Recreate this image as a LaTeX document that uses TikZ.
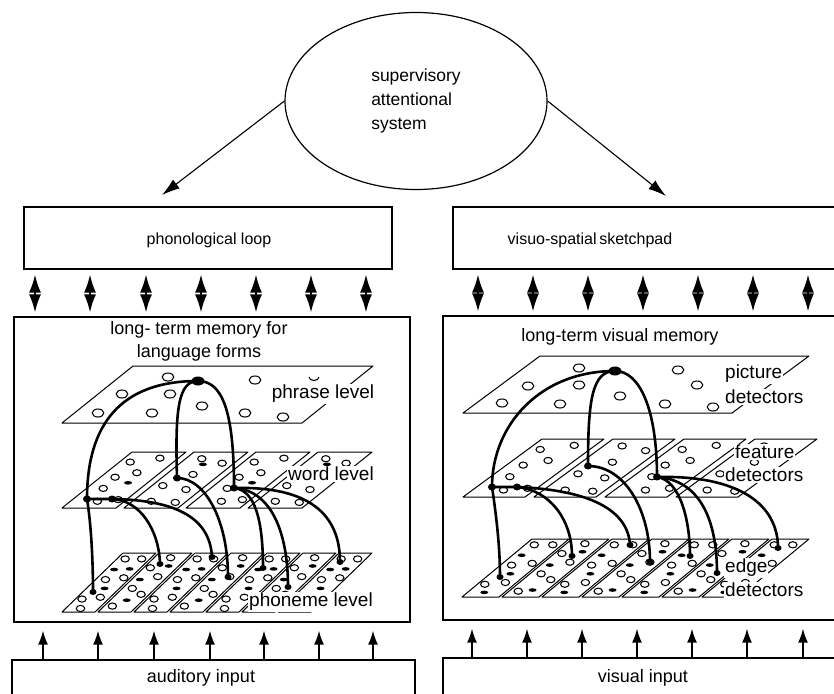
\documentclass[tikz,border=0pt]{standalone}
\usepackage{fontspec}
\setmainfont{Liberation Sans}
\usetikzlibrary{shapes.geometric,arrows.meta}
\newcommand\cardopen[6]{\foreach \u/\v in {#6} \draw[oc] ({#1+\u*#3+\v*#4},{#2-\v*#5}) ellipse [x radius=4.2pt,y radius=3.1pt];}
\newcommand\carddash[6]{\foreach \u/\v in {#6} \fill ({#1+\u*#3+\v*#4},{#2-\v*#5}) ellipse [x radius=4pt,y radius=1.8pt];}
\begin{document}
\begin{tikzpicture}[x=1pt,y=-1pt,
  boxst/.style={draw, line width=1.3pt, inner sep=0pt},
  card/.style={draw, line width=1pt, line join=round},
  oc/.style={line width=1.05pt},
  conn/.style={line width=2.6pt, line cap=round},
  dbl/.style={line width=1.6pt, {Latex[length=18pt,width=12pt]}-{Latex[length=18pt,width=12pt]}},
  uparr/.style={line width=1.5pt, -{Latex[length=14pt,width=10pt]}},
  sarr/.style={line width=1.1pt, -{Latex[length=18pt,width=11pt]}},
  lbl/.style={fill=white, inner sep=1pt, font=\fontsize{19}{22}\selectfont},
  ttl/.style={font=\fontsize{18}{23}\selectfont, align=center},
  bigdot/.style={ellipse, fill=black, minimum width=13pt, minimum height=9pt, inner sep=0pt},
  mdot/.style={ellipse, fill=black, minimum width=8pt, minimum height=7pt, inner sep=0pt},
  sdot/.style={ellipse, fill=black, minimum width=7pt, minimum height=6pt, inner sep=0pt}]
\useasboundingbox (0,0) rectangle (834,693);
\clip (0,0) rectangle (834,693);
\fill[white] (0,0) rectangle (834,693);

% ellipse
\node[ellipse, draw, line width=1.2pt, minimum width=262pt, minimum height=177pt, align=left,
  font=\fontsize{17.5}{24}\selectfont] (sas) at (416,101) {supervisory\\attentional\\system};
\coordinate (lt) at (162,195);
\coordinate (rt) at (666,196);
\draw[sarr] (sas.west) -- (lt);
\draw[sarr] (sas.east) -- (rt);

% boxes
\node[boxst, minimum width=368pt, minimum height=62pt] (pl) at (208,238) {};
\node[font=\fontsize{16}{19}\selectfont] (plt) at (209,240) {phonological loop};
\node[boxst, minimum width=387pt, minimum height=62pt] (vs) at (646.5,238) {};
\node[font=\fontsize{16}{19}\selectfont] (vst) at (590,240) {visuo-spatial\,sketchpad};
\node[boxst, minimum width=396pt, minimum height=305pt] (ltm) at (212,469.5) {};
\node[boxst, minimum width=397pt, minimum height=304pt] (ltv) at (641.5,468) {};
\node[boxst, minimum width=403pt, minimum height=50pt] (ai) at (213.5,685) {};
\node[font=\fontsize{18}{21}\selectfont] (ait) at (201,678) {auditory input};
\node[boxst, minimum width=397pt, minimum height=50pt] (vi) at (641.5,683) {};
\node[font=\fontsize{18}{21}\selectfont] (vit) at (643,678) {visual input};

% arrows between boxes
\foreach \x in {35,90,146,201,256,311,366}
  \draw[dbl, shorten <=5pt, shorten >=4pt] (pl.south -| \x,0) -- (ltm.north -| \x,0);
\foreach \x in {478,533,588,643,698,753,808}
  \draw[dbl, shorten <=5pt, shorten >=4pt] (vs.south -| \x,0) -- (ltv.north -| \x,0);
\foreach \x in {43,98,154,210,264,319,373}
  \draw[uparr, shorten >=8pt] (ai.north -| \x,0) -- (ltm.south -| \x,0);
\foreach \x in {472,527,582,637,692,747,803}
  \draw[uparr, shorten >=8pt] (vi.north -| \x,0) -- (ltv.south -| \x,0);

% titles
\node[ttl] (ltmt) at (199,341) {long- term memory for\\language forms};
\node[ttl] (ltvt) at (620,337) {long-term visual memory};

% ---------- LEFT planes ----------
% phrase plane
\draw[card] (62,423) -- (302,423) -- (373,366) -- (133,366) -- cycle;
\foreach \p in {(168,377),(255,380),(122,394),(170,394),(202,406),(98,413),(152,413),(245,413),(283,417)}
  \draw[oc] \p ellipse [x radius=5.8pt, y radius=4pt];
% word plane
\foreach \bx [count=\i] in {62,124,186,248} {
  \draw[card] (\bx,508) -- ++(54,0) -- ++(70,-56) -- ++(-54,0) -- cycle;
  \ifodd\i
    \cardopen{\bx}{508}{54}{70}{56}{0.2/0.82,0.66/0.89,0.57/0.63,0.27/0.55,0.31/0.35,0.5/0.12,0.85/0.15}
    \carddash{\bx}{508}{54}{70}{56}{0.64/0.45}
  \else
    \cardopen{\bx}{508}{54}{70}{56}{0.3/0.88,0.78/0.8,0.5/0.6,0.2/0.4,0.72/0.33,0.35/0.12,0.82/0.1}
    \carddash{\bx}{508}{54}{70}{56}{0.45/0.78}
  \fi
}
% phoneme plane
\foreach \bx [count=\i] in {62,98,134,170,206,242,278} {
  \draw[card] (\bx,612) -- ++(33,0) -- ++(61,-59) -- ++(-33,0) -- cycle;
  \ifodd\i
    \cardopen{\bx}{612}{33}{61}{59}{0.25/0.9,0.75/0.9,0.3/0.55,0.8/0.58,0.2/0.22,0.7/0.25,0.45/0.06}
    \carddash{\bx}{612}{33}{61}{59}{0.25/0.72,0.7/0.73,0.55/0.4}
  \else
    \cardopen{\bx}{612}{33}{61}{59}{0.5/0.92,0.2/0.75,0.7/0.6,0.3/0.4,0.75/0.3,0.25/0.1}
    \carddash{\bx}{612}{33}{61}{59}{0.7/0.78,0.25/0.55,0.5/0.2}
  \fi
}
\node[lbl] (phl) at (323,394) {phrase level};
\node[lbl] (wdl) at (331,474) {word level};
\node[lbl] (pml) at (311,602) {phoneme level};
\draw[oc] (309,377) arc [start angle=180, end angle=360, x radius=5pt, y radius=3.5pt];

% ---------- RIGHT planes ----------
\draw[card] (463,413) -- (732,413) -- (809,356) -- (540,356) -- cycle;
\foreach \p in {(579,368),(678,370),(528,386),(579,385),(697,385),(620,396),(502,403),(560,404),(665,404),(713,407)}
  \draw[oc] \p ellipse [x radius=5.8pt, y radius=4pt];
\foreach \bx [count=\i] in {463,534,605,676} {
  \draw[card] (\bx,497) -- ++(62,0) -- ++(79,-58) -- ++(-62,0) -- cycle;
  \ifodd\i
    \cardopen{\bx}{497}{62}{79}{58}{0.2/0.82,0.66/0.89,0.57/0.63,0.27/0.55,0.31/0.35,0.5/0.12,0.85/0.15}
  \else
    \cardopen{\bx}{497}{62}{79}{58}{0.3/0.88,0.78/0.8,0.5/0.6,0.2/0.4,0.72/0.33,0.35/0.12,0.82/0.1}
  \fi
}
\foreach \bx [count=\i] in {462,502,542,582,622,662,702} {
  \draw[card] (\bx,597) -- ++(37,0) -- ++(70,-58) -- ++(-37,0) -- cycle;
  \ifodd\i
    \cardopen{\bx}{597}{37}{70}{58}{0.25/0.9,0.75/0.9,0.3/0.55,0.8/0.58,0.2/0.22,0.7/0.25}
    \carddash{\bx}{597}{37}{70}{58}{0.25/0.72,0.55/0.4,0.45/0.08}
  \else
    \cardopen{\bx}{597}{37}{70}{58}{0.5/0.92,0.2/0.75,0.7/0.6,0.3/0.4,0.75/0.3,0.25/0.1}
    \carddash{\bx}{597}{37}{70}{58}{0.7/0.78,0.25/0.55,0.6/0.12}
  \fi
}
\node[lbl, anchor=west] (pic1) at (724,374) {picture};
\node[lbl, anchor=west] (pic2) at (724,397) {detectors};
\node[lbl, anchor=west] (fea1) at (734,452) {feature};
\node[lbl, anchor=west] (fea2) at (724,475) {detectors};
\node[lbl, anchor=west] (edg1) at (724,568) {edge};
\node[lbl, anchor=west] (edg2) at (724,590) {detectors};

% ---------- LEFT connections ----------
\node[bigdot] (P) at (198,381) {};
\node[mdot] (W1) at (87,499) {};
\node[mdot] (W1b) at (112,499) {};
\node[mdot] (W2) at (177,478) {};
\node[mdot] (W3) at (234,488) {};
\node[sdot] (ph1) at (93,592) {};
\node[sdot] (ph2) at (160,564) {};
\node[sdot] (ph3) at (212,557) {};
\node[sdot] (ph4) at (228,577) {};
\node[sdot] (ph5) at (263,568) {};
\node[sdot] (ph6) at (288,587) {};
\node[sdot] (ph7) at (340,562) {};
\draw[conn] (P.center) .. controls (120,381) and (87,425) .. (W1.center);
\draw[conn] (W2.center) .. controls (175,410) and (178,381) .. (P.center) .. controls (222,381) and (234,410) .. (W3.center);
\draw[conn] (W1.center) .. controls (92,530) and (93,570) .. (ph1.center);
\draw[conn] (W1.center) -- (W1b.center) .. controls (140,500) and (159,530) .. (ph2.center);
\draw[conn] (W1b.center) .. controls (180,500) and (210,520) .. (ph3.center);
\draw[conn] (W2.center) .. controls (205,478) and (228,520) .. (ph4.center);
\draw[conn] (W3.center) .. controls (255,490) and (263,520) .. (ph5.center);
\draw[conn] (W3.center) .. controls (270,490) and (288,530) .. (ph6.center);
\draw[conn] (W3.center) .. controls (310,486) and (340,515) .. (ph7.center);

% ---------- RIGHT connections ----------
\node[bigdot] (Q) at (615,371) {};
\node[mdot] (F1) at (492,487) {};
\node[mdot] (F1b) at (517,487) {};
\node[mdot] (F2) at (588,466) {};
\node[mdot] (F3) at (657,477) {};
\node[sdot] (e1) at (500,577) {};
\node[sdot] (e2) at (572,556) {};
\node[sdot] (e3) at (630,545) {};
\node[sdot] (e4) at (650,562) {};
\node[sdot] (e5) at (690,556) {};
\node[sdot] (e6) at (717,573) {};
\node[sdot] (e7) at (778,548) {};
\draw[conn] (Q.center) .. controls (540,371) and (492,425) .. (F1.center);
\draw[conn] (F2.center) .. controls (588,400) and (592,371) .. (Q.center) .. controls (640,371) and (657,410) .. (F3.center);
\draw[conn] (F1.center) .. controls (497,520) and (500,550) .. (e1.center);
\draw[conn] (F1.center) -- (F1b.center) .. controls (550,490) and (572,520) .. (e2.center);
\draw[conn] (F1b.center) .. controls (590,490) and (628,510) .. (e3.center);
\draw[conn] (F2.center) .. controls (625,466) and (650,510) .. (e4.center);
\draw[conn] (F3.center) .. controls (680,480) and (690,520) .. (e5.center);
\draw[conn] (F3.center) .. controls (700,480) and (717,520) .. (e6.center);
\draw[conn] (F3.center) .. controls (740,475) and (778,505) .. (e7.center);
\end{tikzpicture}
\end{document}
